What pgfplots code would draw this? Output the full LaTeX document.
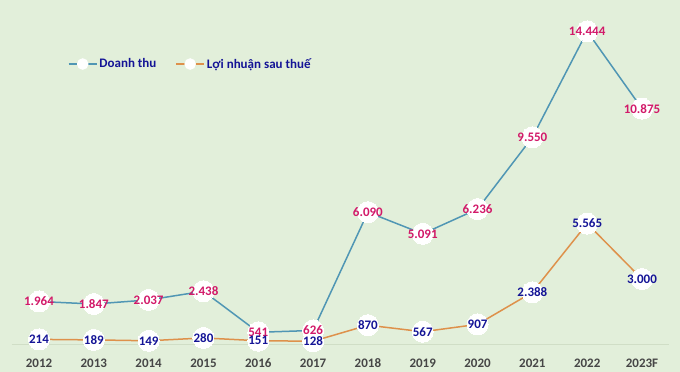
\documentclass[border=0pt]{standalone}
\usepackage{pgfplots}
\usepackage{pgfplotstable}
\pgfplotsset{compat=1.18}
\usepackage{fontspec}
\setmainfont{Carlito}
\definecolor{bg}{RGB}{226,239,218}
\definecolor{dtline}{RGB}{80,150,180}
\definecolor{lnline}{RGB}{222,145,75}
\definecolor{dtlab}{RGB}{210,25,105}
\definecolor{lnlab}{RGB}{20,20,150}
\definecolor{yr}{RGB}{70,70,70}
\definecolor{axl}{RGB}{208,222,198}

\pgfplotstableread{
x y lab
0 1964 1.964
1 1847 1.847
2 2037 2.037
3 2438 2.438
4 541 541
5 626 626
6 6090 6.090
7 5091 5.091
8 6236 6.236
9 9550 9.550
10 14444 14.444
11 10875 10.875
}\doanhthu

\pgfplotstableread{
x y lab
0 214 214
1 189 189
2 149 149
3 280 280
4 151 151
5 128 128
6 870 870
7 567 567
8 907 907
9 2388 2.388
10 5565 5.565
11 3000 3.000
}\loinhuan

\begin{document}
\begin{tikzpicture}
\path[use as bounding box] (0,0) rectangle (680pt,372pt);
\fill[bg] (0,0) rectangle (680pt,372pt);
\begin{axis}[
  at={(11.6pt,28pt)}, anchor=south west,
  scale only axis, width=657.8pt, height=333.3pt,
  xmin=-0.5, xmax=11.5, ymin=0, ymax=15400,
  axis x line=bottom, axis y line=none,
  x axis line style={draw=axl, line width=0.8pt, -},
  xtick={0,...,11},
  xticklabels={2012,2013,2014,2015,2016,2017,2018,2019,2020,2021,2022,2023F},
  xtick style={draw=none}, ytick=\empty,
  xticklabel style={font=\fontsize{13}{15}\selectfont\bfseries, text=yr, anchor=center, yshift=-17pt},
  clip=false,
  legend columns=2,
  legend style={at={(axis description cs:0.0857,0.840)}, anchor=west, draw=none, fill=none,
    inner sep=0pt, outer sep=0pt,
    font=\fontsize{13}{15}\selectfont\bfseries, text=lnlab,
    nodes={inner sep=2pt},
    /tikz/every even column/.append style={column sep=17pt}},
]
\addplot[dtline, line width=1.5pt, mark=*, mark size=10.5pt, mark options={draw=white, fill=white, line width=0pt},
  legend image code/.code={\draw[dtline, line width=1.5pt] (0pt,0pt) -- (28pt,0pt); \fill[white] (14pt,0pt) circle (5pt);}]
  table[x=x, y=y] {\doanhthu};
\addlegendentry{Doanh thu}
\addplot[lnline, line width=1.5pt, mark=*, mark size=10.5pt, mark options={draw=white, fill=white, line width=0pt},
  legend image code/.code={\draw[lnline, line width=1.5pt] (0pt,0pt) -- (28pt,0pt); \fill[white] (14pt,0pt) circle (5pt);}]
  table[x=x, y=y] {\loinhuan};
\addlegendentry{Lợi nhuận sau thuế}
\addplot[draw=none, mark=none, forget plot, point meta=explicit symbolic,
  nodes near coords={\pgfplotspointmeta},
  every node near coord/.append style={anchor=center, inner sep=0pt, font=\fontsize{13}{15}\selectfont\bfseries, text=dtlab}]
  table[x=x, y=y, meta=lab] {\doanhthu};
\addplot[draw=none, mark=none, forget plot, point meta=explicit symbolic,
  nodes near coords={\pgfplotspointmeta},
  every node near coord/.append style={anchor=center, inner sep=0pt, font=\fontsize{13}{15}\selectfont\bfseries, text=lnlab}]
  table[x=x, y=y, meta=lab] {\loinhuan};
\end{axis}
\end{tikzpicture}
\end{document}
